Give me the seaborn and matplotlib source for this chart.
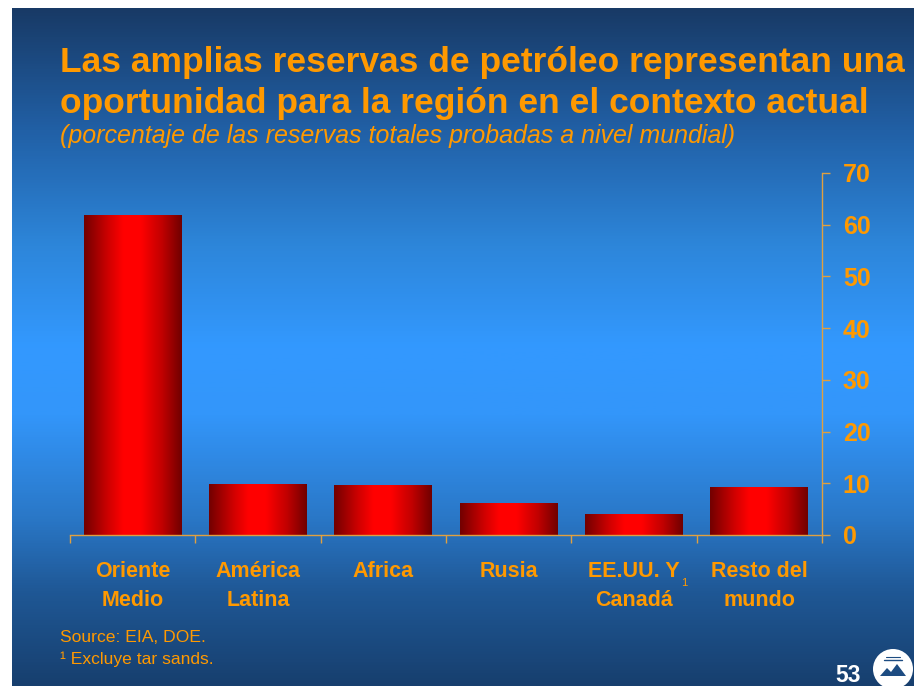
import numpy as np
import matplotlib
matplotlib.use("Agg")
import matplotlib.pyplot as plt
import seaborn as sns
import pandas as pd
from matplotlib.colors import LinearSegmentedColormap
from matplotlib.patches import Circle, Polygon

# Share of world proven oil reserves (%)
regions = ["Oriente\nMedio", "América\nLatina", "Africa", "Rusia", "EE.UU. Y\nCanadá", "Resto del\nmundo"]
shares = [61.7, 9.7, 9.5, 6.0, 3.9, 9.1]
yticks = [0, 10, 20, 30, 40, 50, 60, 70]

title_lines = ["Las amplias reservas de petróleo representan una",
               "oportunidad para la región en el contexto actual"]
subtitle = "(porcentaje de las reservas totales probadas a nivel mundial)"
notes = ["Source: EIA, DOE.", "¹ Excluye tar sands."]
page = "53"

ORANGE = "#ff9900"
AXIS = "#e0a040"
W, H = 914, 686

sns.set_theme(style="ticks")
plt.rcParams["font.family"] = ["Liberation Sans", "DejaVu Sans"]

fig = plt.figure(figsize=(W / 100, H / 100), dpi=100)
fig.patch.set_facecolor("white")

# slide background: vertical blue gradient
bg = fig.add_axes([12 / W, 0, 1 - 12 / W, 1 - 8 / H], zorder=0)
bg_cmap = LinearSegmentedColormap.from_list("slide", [
    (0.00, "#183a66"), (0.18, "#2160a6"), (0.35, "#2d86da"),
    (0.50, "#3399ff"), (0.60, "#3396fa"), (0.75, "#2a78c8"),
    (0.86, "#1f5896"), (1.00, "#173f6e")])
bg.imshow(np.linspace(0, 1, 512).reshape(-1, 1), aspect="auto", cmap=bg_cmap,
          extent=[0, 1, 0, 1], origin="upper")
bg.set_axis_off()

# chart area
ax = fig.add_axes([70 / W, 1 - 535 / H, 752 / W, 362 / H], zorder=2)
ax.set_facecolor("none")
df = pd.DataFrame({"region": regions, "share": shares})
sns.barplot(data=df, x="region", y="share", ax=ax, width=0.78,
            color="red", saturation=1)

# horizontal red shading on each bar
bar_cmap = LinearSegmentedColormap.from_list("bar", [
    (0.00, "#720000"), (0.25, "#d00000"), (0.40, "#ff0000"),
    (0.58, "#ff0000"), (0.80, "#c00000"), (1.00, "#700000")])
shade = np.linspace(0, 1, 256).reshape(1, -1)
for patch in list(ax.patches):
    x0, w, h = patch.get_x(), patch.get_width(), patch.get_height()
    ax.imshow(shade, extent=[x0, x0 + w, 0, h], aspect="auto",
              cmap=bar_cmap, zorder=2)
    patch.set_visible(False)

ax.set_xlim(-0.5, 5.5)
ax.set_ylim(0, 70)
ax.set_xlabel("")
ax.set_ylabel("")
ax.grid(False)

for side in ("left", "top"):
    ax.spines[side].set_visible(False)
for side in ("right", "bottom"):
    ax.spines[side].set_color(AXIS)
    ax.spines[side].set_linewidth(1)

# y axis on the right
ax.yaxis.tick_right()
ax.set_yticks(yticks)
ax.set_yticklabels([str(v) for v in yticks], fontweight="bold")
ax.tick_params(axis="y", which="major", right=True, left=False, length=6,
               width=1, color=AXIS, labelcolor=ORANGE, labelsize=18, pad=9)

# x axis: tick marks between categories, labels centred under bars
ax.set_xticks(np.arange(-0.5, 6.0, 1.0))
ax.set_xticklabels([""] * 7)
ax.set_xticks(np.arange(len(regions)), minor=True)
ax.set_xticklabels(regions, minor=True, fontweight="bold", linespacing=1.5)
ax.tick_params(axis="x", which="major", bottom=True, length=6, width=1,
               color=AXIS, direction="out")
ax.tick_params(axis="x", which="minor", bottom=True, length=0, pad=19,
               labelsize=15.5, labelcolor=ORANGE)

# footnote marker on the US/Canada label
fig.text(684 / W, 1 - 583 / H, "1", fontsize=8, color=ORANGE,
         ha="center", va="center")

# titles
fig.text(60 / W, 1 - 72 / H, title_lines[0], fontsize=25.5, fontweight="bold",
         color=ORANGE, va="baseline")
fig.text(60 / W, 1 - 113 / H, title_lines[1], fontsize=25.5, fontweight="bold",
         color=ORANGE, va="baseline")
fig.text(60 / W, 1 - 143 / H, subtitle, fontsize=18, style="italic",
         color=ORANGE, va="baseline")

# notes
fig.text(60 / W, 1 - 642 / H, notes[0], fontsize=12.6, color=ORANGE, va="baseline")
fig.text(60 / W, 1 - 664 / H, notes[1], fontsize=12.6, color=ORANGE, va="baseline")

# page number
fig.text(848 / W, 1 - 675 / H, page, fontsize=16.5, fontweight="bold",
         color="white", ha="center", va="center")

# emblem in the corner
lg = fig.add_axes([868 / W, 0, 46 / W, 44 / H], zorder=3)
lg.set_xlim(868, 914)
lg.set_ylim(686, 642)
lg.set_axis_off()
lg.add_patch(Circle((893, 669), 20, facecolor="white", edgecolor="none"))
lg.add_patch(Polygon([(880, 676), (887, 668), (891, 672), (897, 664), (906, 676)],
                     closed=True, facecolor="#1d4c82", edgecolor="none"))
lg.plot([884, 902], [660, 660], color="#1d4c82", lw=1)
lg.plot([886, 900], [657, 657], color="#1d4c82", lw=0.8)

fig.savefig("out.png", dpi=100)
